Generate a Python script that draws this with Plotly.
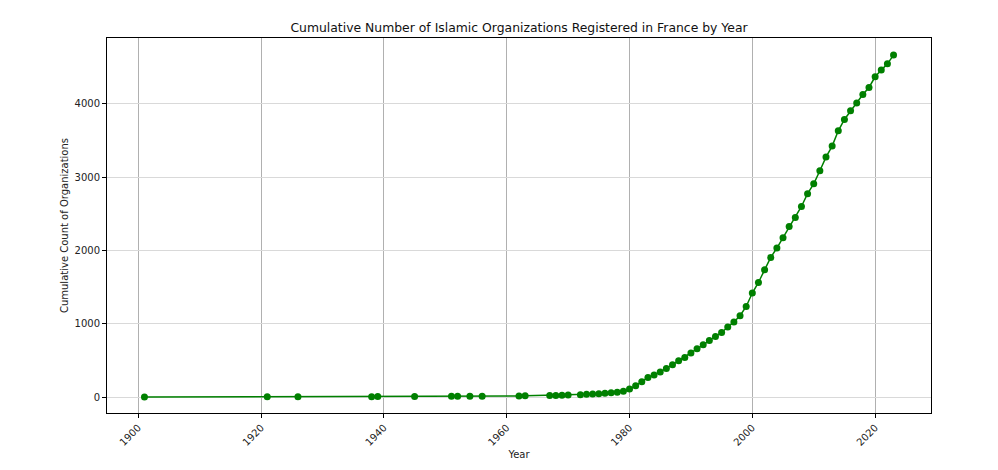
import plotly.graph_objects as go

years = [1901, 1921, 1926, 1938, 1939, 1945, 1951, 1952, 1954, 1956, 1962, 1963,
         1967, 1968, 1969, 1970, 1972, 1973, 1974, 1975, 1976, 1977, 1978, 1979,
         1980, 1981, 1982, 1983, 1984, 1985, 1986, 1987, 1988, 1989, 1990, 1991,
         1992, 1993, 1994, 1995, 1996, 1997, 1998, 1999, 2000, 2001, 2002, 2003,
         2004, 2005, 2006, 2007, 2008, 2009, 2010, 2011, 2012, 2013, 2014, 2015,
         2016, 2017, 2018, 2019, 2020, 2021, 2022, 2023]
cumulative = [1, 2, 3, 4, 6, 8, 9, 10, 11, 12, 14, 16,
              20, 22, 24, 26, 30, 36, 40, 45, 52, 58, 65, 80,
              110, 154, 209, 267, 300, 341, 390, 441, 495, 540, 600, 659,
              713, 772, 827, 881, 955, 1023, 1109, 1236, 1419, 1563, 1735, 1905,
              2033, 2173, 2327, 2450, 2600, 2774, 2910, 3087, 3274, 3424, 3633, 3787,
              3906, 4011, 4128, 4224, 4370, 4461, 4547, 4666]

x_ticks = [1900, 1920, 1940, 1960, 1980, 2000, 2020]
y_ticks = [0, 1000, 2000, 3000, 4000]

title_text = "Cumulative Number of Islamic Organizations Registered in France by Year"
x_title = "Year"
y_title = "Cumulative Count of Organizations"

fig = go.Figure()
fig.add_trace(go.Scatter(
    x=years, y=cumulative, mode="lines+markers",
    line=dict(color="#008000", width=1.5),
    marker=dict(color="#008000", size=7),
    showlegend=False,
))

xspan = max(years) - min(years)
yspan = max(cumulative) - min(cumulative)

fig.update_layout(
    width=998, height=470,
    paper_bgcolor="white", plot_bgcolor="white",
    margin=dict(l=107, r=67, t=38, b=57),
    font=dict(family="DejaVu Sans", size=10, color="#222222"),
    title=dict(text=title_text, xref="paper", x=0.5, xanchor="center",
               y=1 - 28 / 470, yanchor="middle",
               font=dict(size=12.4, color="#111111")),
)
fig.update_xaxes(
    range=[min(years) - 0.05 * xspan, max(years) + 0.05 * xspan],
    tickvals=x_ticks, ticktext=[str(v) for v in x_ticks], tickangle=-45,
    showgrid=True, gridcolor="#b0b0b0", gridwidth=1,
    showline=True, linecolor="black", linewidth=1, mirror=True,
    ticks="outside", ticklen=4, tickcolor="black",
    zeroline=False,
    title=dict(text=x_title, font=dict(size=10), standoff=4),
)
fig.update_yaxes(
    range=[min(cumulative) - 0.047 * yspan, max(cumulative) + 0.05 * yspan],
    tickvals=y_ticks, ticktext=[str(v) for v in y_ticks],
    showgrid=True, gridcolor="#d9d9d9", gridwidth=1,
    showline=True, linecolor="black", linewidth=1, mirror=True,
    ticks="outside", ticklen=4, tickcolor="black",
    zeroline=False,
    title=dict(text=y_title, font=dict(size=10), standoff=4),
)

fig.write_html("out.html")
